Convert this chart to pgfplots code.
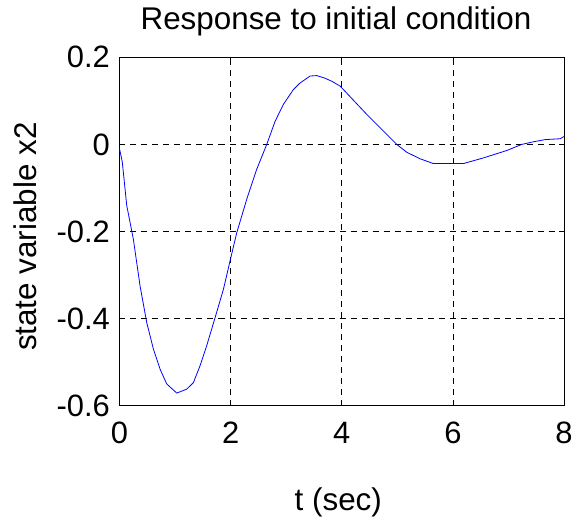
\documentclass[border=0pt]{standalone}
\usepackage{fontspec}
\setmainfont{Liberation Sans}
\usepackage{pgfplots}
\pgfplotsset{compat=1.18}
\begin{document}
\fontsize{31.5}{36}\selectfont
\begin{tikzpicture}
\begin{axis}[
  name=ax,
  scale only axis, width=444.5bp, height=348.4bp,
  at={(0,0)}, anchor=south west,
  xmin=0, xmax=8, ymin=-0.6, ymax=0.2,
  xtick={0,2,4,6,8}, ytick={-0.6,-0.4,-0.2,0,0.2},
  grid=major,
  major grid style={black, dash pattern=on 6bp off 5bp, line width=0.6bp},
  tick align=inside, major tick length=5bp,
  tick style={black, line width=0.7bp},
  axis line style={black, line width=0.9bp},
  /pgf/number format/assume math mode=true,
  /pgf/number format/fixed,
  tick label style={font=\fontsize{31}{36}\selectfont},
  yticklabel style={anchor=east, inner sep=0pt, xshift=-9.5bp},
  xticklabel style={anchor=north, inner sep=0pt, yshift=-16bp},
]
\addplot[blue, line width=0.8bp] coordinates {
(0,-0.01) (0.05,-0.04) (0.13,-0.14) (0.25,-0.218) (0.37,-0.325) (0.49,-0.409)
(0.61,-0.47) (0.73,-0.516) (0.85,-0.55) (1.03,-0.571) (1.21,-0.562)
(1.33,-0.547) (1.45,-0.508) (1.57,-0.462) (1.72,-0.398) (1.87,-0.333)
(2.0,-0.262) (2.11,-0.203) (2.29,-0.126) (2.47,-0.057) (2.65,0)
(2.80,0.053) (2.95,0.092) (3.13,0.126) (3.25,0.141) (3.43,0.157)
(3.55,0.158) (3.70,0.152) (3.82,0.145) (3.97,0.134) (4.45,0.069)
(4.99,0) (5.17,-0.018) (5.41,-0.033) (5.65,-0.044) (6.19,-0.044)
(6.55,-0.031) (6.97,-0.014) (7.24,0) (7.45,0.006) (7.66,0.011)
(7.93,0.013) (8.0,0.018)
};
\end{axis}
\node[anchor=base, inner sep=0pt] at (216.5bp,376.2bp) {Response to initial condition};
\node[anchor=base, inner sep=0pt] at (218.8bp,-104.3bp) {t (sec)};
\node[anchor=base, inner sep=0pt, rotate=90] at (-82.8bp,169bp) {state variable x2};
\pgfresetboundingbox
\path[use as bounding box] (-119.5bp,-113.3bp) rectangle (455.5bp,405.7bp);
\end{tikzpicture}
\end{document}
